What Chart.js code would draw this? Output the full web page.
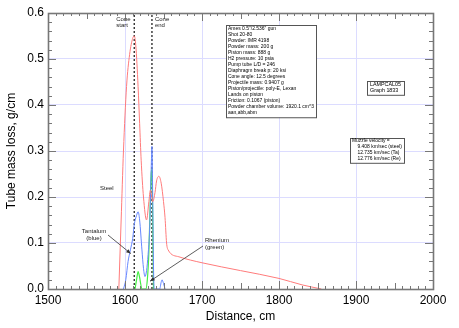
<!DOCTYPE html>
<html>
<head>
<meta charset="utf-8">
<script src="https://cdn.jsdelivr.net/npm/chart.js@4/dist/chart.umd.min.js"></script>
<style>
  html, body { margin: 0; padding: 0; background: #fff; }
  #wrap { width: 459px; height: 328px; }
</style>
</head>
<body>
<div id="wrap"><canvas id="chart"></canvas></div>
<script>
// steel (red)
const steelX = [1592, 1595, 1598, 1602, 1606, 1610, 1612, 1614, 1617, 1619, 1621, 1624, 1628, 1631, 1633, 1636, 1639, 1641, 1644, 1647, 1650, 1652, 1654, 1656, 1670, 1700, 1750, 1800, 1830, 1855];
const steelY = [0, 0.15, 0.3, 0.44, 0.51, 0.545, 0.55, 0.53, 0.44, 0.36, 0.28, 0.2, 0.15, 0.19, 0.215, 0.19, 0.21, 0.235, 0.245, 0.23, 0.19, 0.155, 0.1, 0.085, 0.07, 0.057, 0.04, 0.023, 0.009, 0];
// tantalum (blue)
const taX = [1598, 1601, 1604, 1607, 1610, 1612, 1615, 1617, 1619, 1622, 1624, 1626, 1628, 1630, 1632, 1634, 1635, 1636, 1637, 1638, 1645, 1647, 1648, 1650, 1652];
const taY = [0, 0.02, 0.06, 0.085, 0.11, 0.14, 0.16, 0.168, 0.15, 0.085, 0.045, 0.027, 0.04, 0.075, 0.13, 0.26, 0.31, 0.2, 0.05, 0, 0, 0.015, 0.02, 0.012, 0];
// rhenium (green)
const reX = [1613, 1615, 1617, 1619, 1622, 1627, 1629, 1631, 1633, 1634, 1635, 1636, 1637];
const reY = [0, 0.02, 0.038, 0.025, 0, 0, 0.02, 0.08, 0.2, 0.25, 0.26, 0.15, 0];

const coneStart = 1612;
const coneEnd = 1635;

const xTicks = [1500, 1600, 1700, 1800, 1900, 2000];
const yTicks = [0.0, 0.1, 0.2, 0.3, 0.4, 0.5, 0.6];

const infoLines = [
  'Ames 0.5"/2.536" gun',
  'Shot 20-80',
  'Powder: IMR 4198',
  'Powder mass: 200 g',
  'Piston mass: 888 g',
  'H2 pressure: 10 psia',
  'Pump tube L/D = 246',
  'Diaphragm break p: 20 ksi',
  'Cone angle: 12.5 degrees',
  'Projectile mass: 0.9407 g',
  'Piston/projectile: poly-E, Lexan',
  'Lands on piston',
  'Friction: 0.1067 (piston)',
  'Powder chamber volume: 1920.1 cm^3',
  'aan,abb,abm'
];
const graphLines = ['LAMPCAL05', 'Graph 1833'];
const velocityLines = ['Muzzle velocity =', '    9.408 km/sec (steel)', '    12.735 km/sec (Ta)', '    12.776 km/sec (Re)'];

function pts(xs, ys) {
  return xs.map((x, i) => ({ x: x, y: ys[i] }));
}

const FONT = 'Liberation Sans, Arial, Helvetica, sans-serif';

// text box, font shrinks to fit the given width
function box(ctx, x, y, lines, size, lh, padX, padY, w) {
  ctx.font = size + 'px ' + FONT;
  const widest = Math.max(...lines.map(l => ctx.measureText(l).width));
  if (widest > w - padX * 2) {
    size = size * (w - padX * 2) / widest;
    ctx.font = size + 'px ' + FONT;
  }
  const height = lines.length * lh + padY * 2;
  ctx.fillStyle = '#fff';
  ctx.fillRect(x, y, w, height);
  ctx.strokeStyle = '#555';
  ctx.lineWidth = 1;
  ctx.strokeRect(x + 0.5, y + 0.5, w, height);
  ctx.fillStyle = '#000';
  ctx.textBaseline = 'top';
  ctx.textAlign = 'left';
  lines.forEach((l, i) => ctx.fillText(l, x + padX, y + padY + i * lh));
}

function arrow(ctx, x1, y1, x2, y2) {
  ctx.strokeStyle = '#333';
  ctx.fillStyle = '#333';
  ctx.lineWidth = 0.8;
  ctx.beginPath();
  ctx.moveTo(x1, y1);
  ctx.lineTo(x2, y2);
  ctx.stroke();
  const a = Math.atan2(y2 - y1, x2 - x1);
  const L = 5;
  ctx.beginPath();
  ctx.moveTo(x2, y2);
  ctx.lineTo(x2 - L * Math.cos(a - 0.4), y2 - L * Math.sin(a - 0.4));
  ctx.lineTo(x2 - L * Math.cos(a + 0.4), y2 - L * Math.sin(a + 0.4));
  ctx.closePath();
  ctx.fill();
}

const framePlugin = {
  id: 'frame',
  afterDatasetsDraw(chart) {
    const ctx = chart.ctx;
    const a = chart.chartArea;
    const xs = chart.scales.x, ys = chart.scales.y;
    ctx.save();
    // ticks on all sides, pointing in
    ctx.strokeStyle = '#777';
    ctx.lineWidth = 1;
    ctx.beginPath();
    for (let v = 1500; v <= 2000; v += 10) {
      const px = Math.round(xs.getPixelForValue(v)) + 0.5;
      const len = v % 100 === 0 ? 8 : (v % 50 === 0 ? 6 : 3);
      ctx.moveTo(px, a.bottom); ctx.lineTo(px, a.bottom - len);
      ctx.moveTo(px, a.top); ctx.lineTo(px, a.top + len);
    }
    for (let k = 0; k <= 30; k++) {
      const v = k * 0.02;
      const py = Math.round(ys.getPixelForValue(v)) + 0.5;
      const len = k % 5 === 0 ? 8 : 4;
      ctx.moveTo(a.left, py); ctx.lineTo(a.left + len, py);
      ctx.moveTo(a.right, py); ctx.lineTo(a.right - len, py);
    }
    ctx.stroke();
    ctx.lineWidth = 1.6;
    ctx.strokeRect(Math.round(a.left) + 0.5, Math.round(a.top) + 0.5, Math.round(a.right - a.left), Math.round(a.bottom - a.top));

    // labels
    ctx.fillStyle = '#222';
    ctx.font = '6px ' + FONT;
    ctx.textAlign = 'left';
    ctx.textBaseline = 'middle';
    const cs = xs.getPixelForValue(coneStart), ce = xs.getPixelForValue(coneEnd);
    ctx.fillText('Cone', cs - 18, 19);
    ctx.fillText('start', cs - 18, 25.5);
    ctx.fillText('Cone', ce + 3, 19);
    ctx.fillText('end', ce + 3, 25.5);
    ctx.fillText('Steel', 100, 188);
    ctx.textAlign = 'center';
    ctx.fillText('Tantalum', 94, 231);
    ctx.fillText('(blue)', 94, 238.5);
    ctx.textAlign = 'left';
    ctx.fillText('Rhenium', 205, 240);
    ctx.fillText('(green)', 205, 247);

    arrow(ctx, 108, 235, xs.getPixelForValue(1607.5), ys.getPixelForValue(0.077));
    arrow(ctx, 203, 246, xs.getPixelForValue(1632.5), ys.getPixelForValue(0.017));

    box(ctx, 226, 25, infoLines, 5.6, 5.95, 2, 1.5, 90);
    box(ctx, 367, 81, graphLines, 6, 6.4, 3, 0.5, 37);
    box(ctx, 350, 138, velocityLines, 5.6, 5.95, 2, 0.5, 54);
    ctx.restore();
  }
};

new Chart(document.getElementById('chart'), {
  type: 'line',
  data: {
    datasets: [
      { label: 'Steel', data: pts(steelX, steelY), borderColor: '#ff7b7b', borderWidth: 1, cubicInterpolationMode: 'monotone' },
      { label: 'Tantalum', data: pts(taX, taY), borderColor: '#6688ff', borderWidth: 1, cubicInterpolationMode: 'monotone' },
      { label: 'Rhenium', data: pts(reX, reY), borderColor: '#44ee44', borderWidth: 1.2, cubicInterpolationMode: 'monotone' },
      { label: 'Cone start', data: [{ x: coneStart, y: 0 }, { x: coneStart, y: 0.6 }], borderColor: '#222', borderWidth: 1.3, borderDash: [2, 2] },
      { label: 'Cone end', data: [{ x: coneEnd, y: 0 }, { x: coneEnd, y: 0.6 }], borderColor: '#222', borderWidth: 1.3, borderDash: [2, 2] }
    ]
  },
  options: {
    responsive: true,
    maintainAspectRatio: false,
    animation: false,
    events: [],
    layout: { padding: { top: 13, right: 26, left: 0, bottom: 0 } },
    elements: { point: { radius: 0 } },
    plugins: { legend: { display: false }, tooltip: { enabled: false } },
    scales: {
      x: {
        type: 'linear',
        min: 1500,
        max: 2000,
        afterBuildTicks: s => { s.ticks = xTicks.map(v => ({ value: v })); },
        afterFit: s => { s.height = 39; },
        grid: { color: '#dcdcff', drawTicks: false, lineWidth: 1 },
        border: { display: false },
        ticks: { padding: 4, color: '#000', font: { family: FONT, size: 12 }, maxRotation: 0, callback: v => String(v) },
        title: { display: true, text: 'Distance, cm', color: '#000', font: { family: FONT, size: 12 }, padding: { top: 5 } }
      },
      y: {
        min: 0,
        max: 0.6,
        afterBuildTicks: s => { s.ticks = yTicks.map(v => ({ value: v })); },
        afterFit: s => { s.width = 48; },
        grid: { color: '#dcdcff', drawTicks: false, lineWidth: 1 },
        border: { display: false },
        ticks: { padding: 4, color: '#000', font: { family: FONT, size: 12 }, callback: v => v.toFixed(1) },
        title: { display: true, text: 'Tube mass loss, g/cm', color: '#000', font: { family: FONT, size: 12 }, padding: { bottom: 2 } }
      }
    }
  },
  plugins: [framePlugin]
});
</script>
</body>
</html>
